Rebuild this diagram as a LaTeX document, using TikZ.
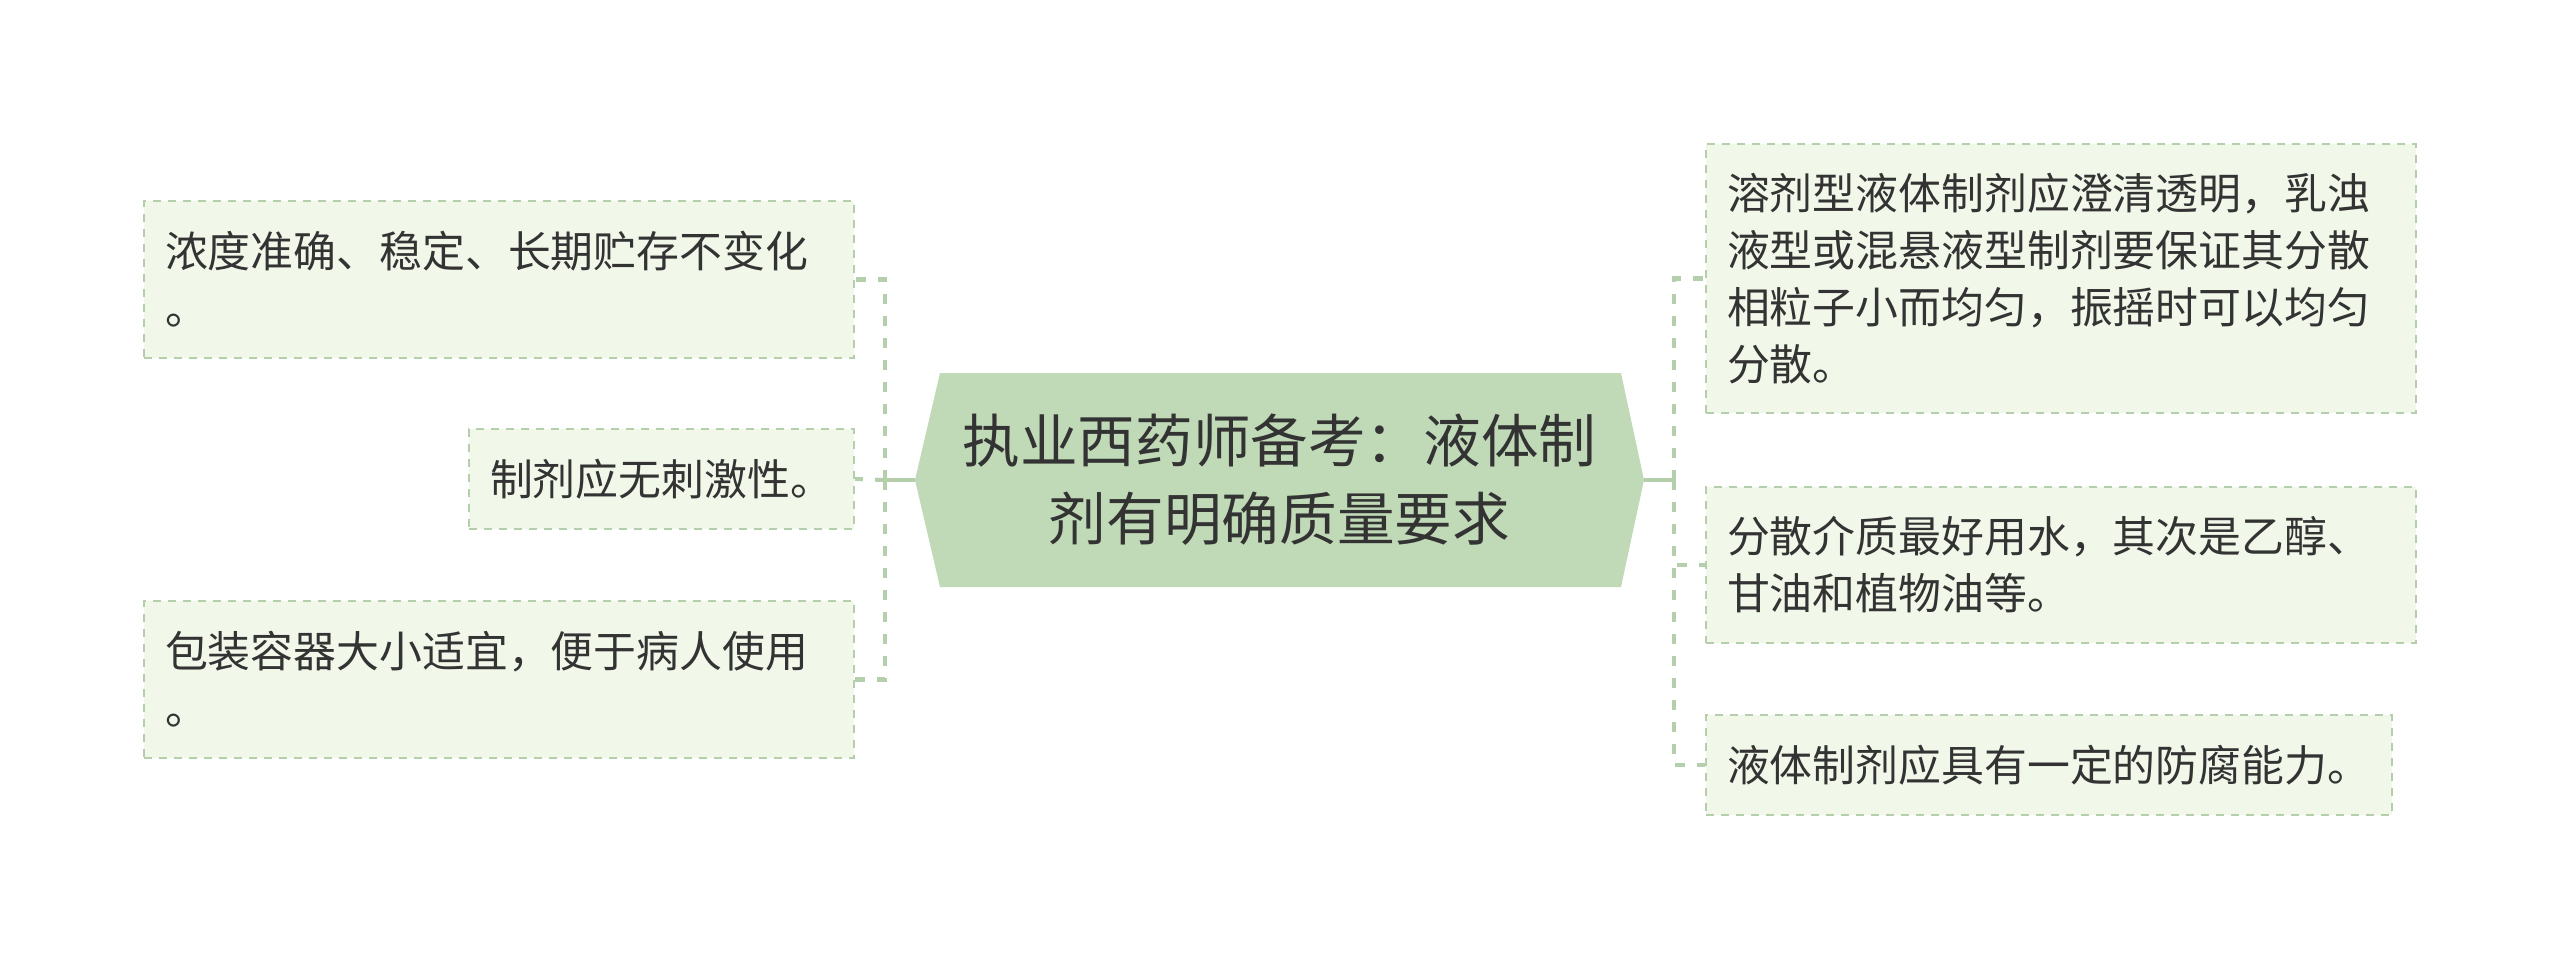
\documentclass[tikz,border=0pt]{standalone}
\usepackage{fontspec}
\setmainfont{Noto Sans CJK SC}
\usetikzlibrary{calc}
\definecolor{RootFill}{HTML}{C0DAB8}
\definecolor{TopicFill}{HTML}{F1F7E9}
\definecolor{TopicLine}{HTML}{B5CFAC}
\definecolor{TopicText}{HTML}{333333}
\colorlet{Connector}{TopicLine}

\tikzset{
  topic/.style={draw=TopicLine, line width=0.55pt, dash pattern=on 0.8mm off 0.7mm,
    fill=TopicFill, text=TopicText, align=left, inner xsep=2.1mm, inner ysep=0pt,
    font=\fontsize{12.2}{16.2}\selectfont},
  topicwide/.style={topic, minimum width=71mm, text width=66.8mm},
  root/.style={text=TopicText, align=center, font=\fontsize{16.4}{22.2}\selectfont},
  trunk/.style={Connector, line width=1.15pt},
  branch/.style={Connector, line width=1.15pt, dash pattern=on 1mm off 1.2mm},
}

\begin{document}
\begin{tikzpicture}[x=0.1mm, y=-0.1mm]
    \useasboundingbox (0, 0) rectangle (2560, 960);

    % Contorno del tema central
    \coordinate (W) at (915, 480);
    \coordinate (NW) at (940, 373);
    \coordinate (NE) at (1621, 373);
    \coordinate (E) at (1644, 480);
    \coordinate (SE) at (1621, 587);
    \coordinate (SW) at (940, 587);

    % Puntos de union de las ramas
    \coordinate (LJ) at (885, 480);
    \coordinate (RJ) at (1674, 480);

    \fill[RootFill] (W) -- (NW) -- (NE) -- (E) -- (SE) -- (SW) -- cycle;
    \node[root] (root) at ($(W)!0.5!(E)$) {执业西药师备考：液体制\\剂有明确质量要求};

    % Ramas de la izquierda
    \node[topicwide, minimum height=15.7mm] (L1) at (499, 279.5)
        {浓度准确、稳定、长期贮存不变化\\。};
    \node[topic, minimum width=38.5mm, text width=34.3mm, minimum height=10mm] (L2) at (661.5, 479)
        {制剂应无刺激性。};
    \node[topicwide, minimum height=15.7mm] (L3) at (499, 679.5)
        {包装容器大小适宜，便于病人使用\\。};

    % Ramas de la derecha
    \node[topicwide, minimum height=26.9mm] (R1) at (2061, 278.5)
        {溶剂型液体制剂应澄清透明，乳浊\\液型或混悬液型制剂要保证其分散\\相粒子小而均匀，振摇时可以均匀\\分散。};
    \node[topicwide, minimum height=15.6mm] (R2) at (2061, 565)
        {分散介质最好用水，其次是乙醇、\\甘油和植物油等。};
    \node[topic, minimum width=68.6mm, text width=64.4mm, minimum height=10mm] (R3) at (2049, 765)
        {液体制剂应具有一定的防腐能力。};

    \draw[trunk] (W) -- (LJ);
    \draw[trunk] (E) -- (RJ);
    \draw[branch] (LJ) |- (L1.east);
    \draw[branch] (LJ) -- (L2.east);
    \draw[branch] (LJ) |- (L3.east);
    \draw[branch] (RJ) |- (R1.west);
    \draw[branch] (RJ) |- (R2.west);
    \draw[branch] (RJ) |- (R3.west);
\end{tikzpicture}
\end{document}
